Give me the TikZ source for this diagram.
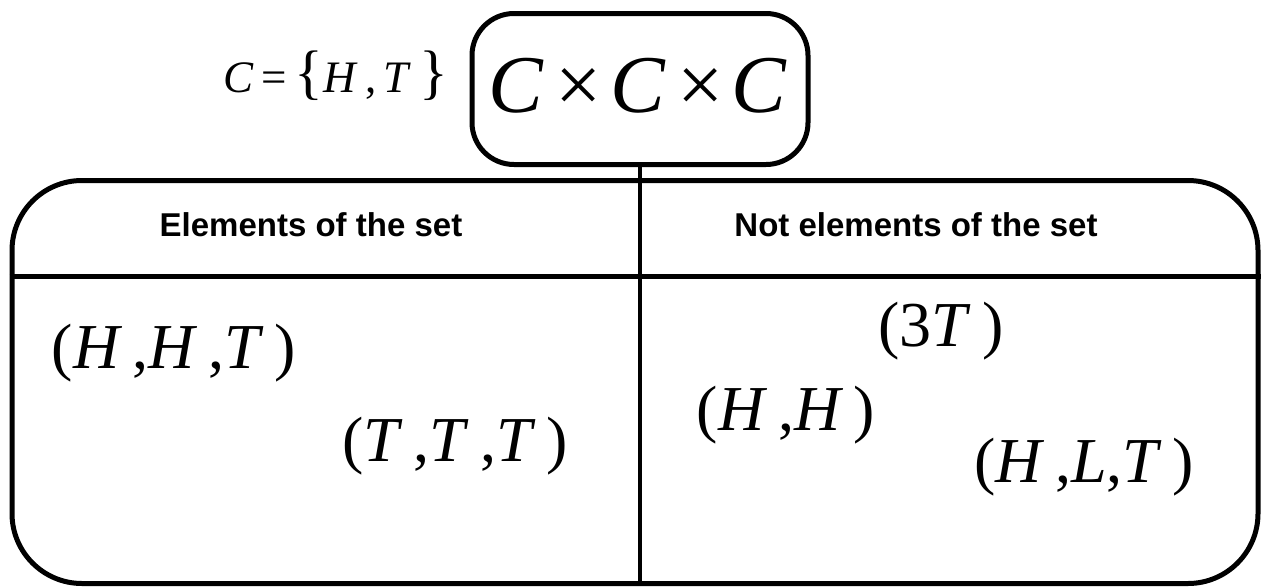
\documentclass[tikz,border=0pt]{standalone}
\usepackage{fontspec}
\setmainfont{Liberation Serif}
\setsansfont{Liberation Sans}
\begin{document}
\begin{tikzpicture}[x=1pt,y=-1pt,
  frame/.style={draw, line width=5pt, inner sep=0pt},
  head/.style={font=\sffamily\bfseries\fontsize{33}{36}\selectfont, inner sep=0pt},
  elem/.style={font=\fontsize{64}{68}\selectfont, inner sep=0pt},
  conn/.style={line width=5pt}]
\useasboundingbox (0,0) rectangle (1266,587);
% outer table
\node[frame, rounded corners=70pt, minimum width=1246pt, minimum height=403pt] (outer) at (635,382) {};
% top box
\node[frame, rounded corners=42pt, minimum width=336pt, minimum height=151pt] (top) at (640,89) {};
\node[font=\fontsize{82}{86}\selectfont, inner sep=0pt] (prod) at (638,86) {\textit{C}\hspace{0.14em}×\hspace{0.1em}\textit{C}\hspace{0.14em}×\hspace{0.1em}\textit{C}};
\node[font=\fontsize{45}{48}\selectfont, inner sep=0pt, anchor=east] (setC) at (448,76) {\textit{C}\,=\,{\fontsize{60}{60}\selectfont\{}\textit{H}\,,\,\textit{T}\,{\fontsize{60}{60}\selectfont\}}};
% dividers
\coordinate (hl) at (outer.west |- 0,276);
\coordinate (hr) at (outer.east |- 0,276);
\draw[conn] (hl) -- (hr);
\draw[line width=4pt] (top.south) -- (top.south |- outer.south);
% headers
\node[head] (h1) at (311,225) {Elements of the set};
\node[head] (h2) at (916,225) {Not elements of the set};
% elements
\node[elem] (e1) at (174,353) {(\textit{H}\,,\textit{H}\,,\textit{T}\,)};
\node[elem] (e2) at (455,446) {(\textit{T}\,,\textit{T}\,,\textit{T}\,)};
\node[elem] (n1) at (941,331) {(3\textit{T}\,)};
\node[elem] (n2) at (786,415) {(\textit{H}\,,\textit{H}\,)};
\node[elem] (n3) at (1084,467) {(\textit{H}\,,\textit{L},\textit{T}\,)};
\end{tikzpicture}
\end{document}
